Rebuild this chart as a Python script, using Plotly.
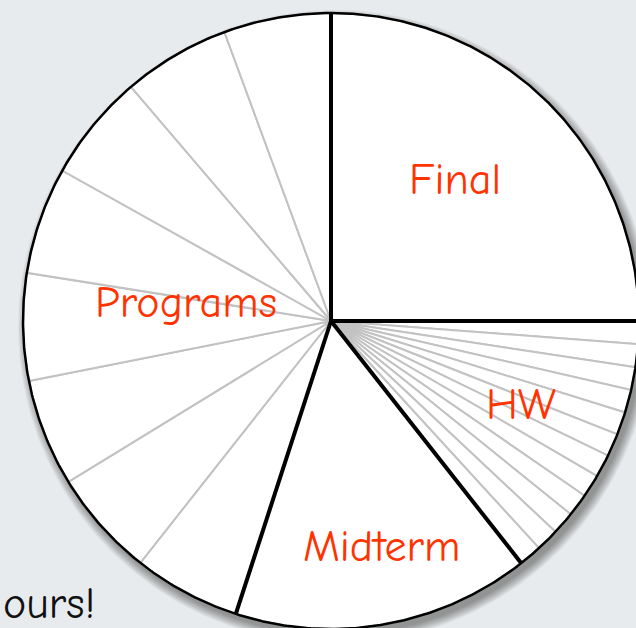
import numpy as np
import plotly.graph_objects as go

# ---- data (shares in percent) ----
categories = ["Final", "HW", "Midterm", "Programs"]
category_shares = [25.0, 14.4, 15.6, 45.0]
final_parts = [25.0]
hw_parts = [1.2, 1.2, 1.2, 1.2, 1.2, 1.2, 1.2, 1.2, 1.2, 1.2, 1.2, 1.2]
midterm_parts = [15.6]
program_parts = [5.625, 5.625, 5.625, 5.625, 5.625, 5.625, 5.625, 5.625]
caption_text = "ours!"

# ---- layout geometry (pixels) ----
W, H = 636, 628
CX, CY, R = 331, 321, 308
x_range = [-CX / R, (W - CX) / R]
y_range = [-(H - CY) / R, CY / R]

BG = "#e8ebed"
LABEL_COLOR = "#ff3300"
FONT = "Comic Sans MS, Comic Neue, Noto Sans, sans-serif"


def arc(a0, a1):
    n = max(2, int(abs(a1 - a0) / 0.5) + 2)
    t = np.radians(np.linspace(a0, a1, n))
    return np.sin(t), np.cos(t)


def wedge(a0, a1):
    xs, ys = arc(a0, a1)
    return np.concatenate([[0], xs, [0]]), np.concatenate([[0], ys, [0]])


fig = go.Figure()

# soft drop shadow (down-right)
for k in range(10):
    rr = 1 + (k * 1.0) / R
    t = np.radians(np.linspace(0, 360, 361))
    ox, oy = 4 / R, -6 / R
    fig.add_trace(go.Scatter(
        x=ox + rr * np.sin(t), y=oy + rr * np.cos(t),
        mode="lines", fill="toself", fillcolor="rgba(0,0,0,0.045)",
        line=dict(width=0), hoverinfo="skip", showlegend=False))

# sub-slices (white with grey separators)
all_parts = [final_parts, hw_parts, midterm_parts, program_parts]
angle = 0.0
for parts in all_parts:
    for p in parts:
        a1 = angle + p * 3.6
        xs, ys = wedge(angle, a1)
        fig.add_trace(go.Scatter(
            x=xs, y=ys, mode="lines", fill="toself", fillcolor="white",
            line=dict(color="#c2c2c2", width=2), hoverinfo="skip",
            showlegend=False))
        angle = a1

# main category boundaries (thick black radial lines)
bx, by = [], []
cum = 0.0
for s in category_shares:
    a = np.radians(cum * 3.6)
    bx += [0, np.sin(a), None]
    by += [0, np.cos(a), None]
    cum += s
fig.add_trace(go.Scatter(x=bx, y=by, mode="lines",
                         line=dict(color="black", width=4),
                         hoverinfo="skip", showlegend=False))

# outer circle outline
cx_, cy_ = arc(0, 360)
fig.add_trace(go.Scatter(x=cx_, y=cy_, mode="lines",
                         line=dict(color="black", width=2.5),
                         hoverinfo="skip", showlegend=False))

# labels
label_pos_px = {"Final": (455, 179), "HW": (521, 404),
                "Midterm": (381, 546), "Programs": (186, 302)}
annotations = []
for name in categories:
    px, py = label_pos_px[name]
    annotations.append(dict(
        x=px / W, y=1 - py / H, xref="paper", yref="paper",
        text=name, showarrow=False, xanchor="center", yanchor="middle",
        font=dict(family=FONT, size=44, color=LABEL_COLOR)))
annotations.append(dict(
    x=1 / W, y=1 - 603 / H, xref="paper", yref="paper",
    text=caption_text, showarrow=False, xanchor="left", yanchor="middle",
    font=dict(family=FONT, size=44, color="#111111")))

fig.update_layout(
    width=W, height=H,
    margin=dict(l=0, r=0, t=0, b=0),
    paper_bgcolor=BG, plot_bgcolor=BG,
    xaxis=dict(range=x_range, visible=False, fixedrange=True),
    yaxis=dict(range=y_range, visible=False, fixedrange=True),
    annotations=annotations,
    showlegend=False,
)

fig.write_html(
    "out.html",
    config={"displayModeBar": False},
    post_script="document.body.style.margin='0';document.body.style.overflow='hidden';",
)
